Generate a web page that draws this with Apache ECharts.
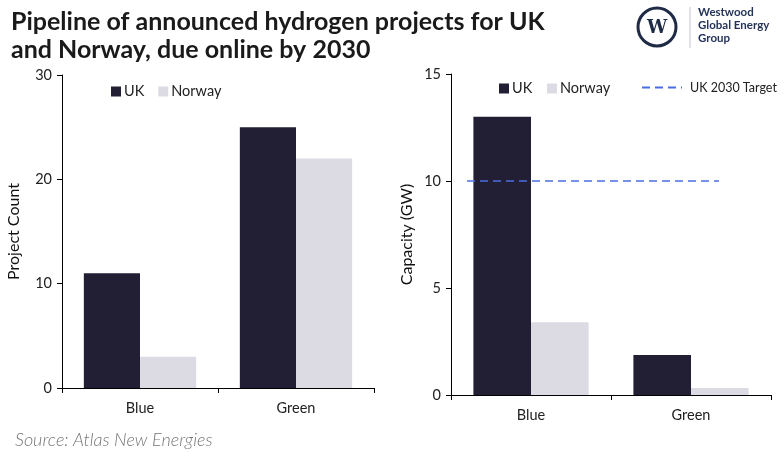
<!DOCTYPE html>
<html><head><meta charset="utf-8">
<script src="https://cdn.jsdelivr.net/npm/echarts@6/dist/echarts.min.js"></script>
<style>html,body{margin:0;padding:0;background:#fff}#c{width:784px;height:458px}</style>
</head><body><div id="c"></div>
<script>
const categories = ['Blue', 'Green'];
const seriesNames = ['UK', 'Norway'];
const projectCountUK = [11, 25];
const projectCountNorway = [3, 22];
const capacityUK = [13, 1.87];
const capacityNorway = [3.4, 0.33];
const targetName = 'UK 2030 Target';
const targetValue = 10;
const targetSpan = [0.1, 1.675]; // extent of target line in category units
const countTicks = [0, 10, 20, 30];
const capacityTicks = [0, 5, 10, 15];

const UKC = '#221f35', NOC = '#dcdbe3', TGC = '#4a6ee0';
const FONT = 'Lato, "Open Sans", sans-serif';
const chart = echarts.init(document.getElementById('c'));

function yAx(idx, ticks, name) {
  return {
    type: 'value', gridIndex: idx, min: ticks[0], max: ticks[ticks.length - 1],
    interval: ticks[1] - ticks[0],
    name: name, nameLocation: 'middle', nameRotate: 90, nameGap: idx === 0 ? 40 : 36,
    nameTextStyle: { fontFamily: FONT, fontSize: 16, color: '#111' },
    axisLine: { show: true, lineStyle: { color: '#000', width: 1 } },
    axisTick: { show: true, length: 5, lineStyle: { color: '#000' } },
    axisLabel: { fontFamily: FONT, fontSize: 14.5, color: '#222', margin: 10 },
    splitLine: { show: false }
  };
}
function xAx(idx) {
  return {
    type: 'category', gridIndex: idx, data: categories,
    axisLine: { lineStyle: { color: '#000', width: 1 } },
    axisTick: { show: true, length: 5, lineStyle: { color: '#000' } },
    axisLabel: { fontFamily: FONT, fontSize: 14.5, color: '#222', margin: 13 }
  };
}
function bar(name, data, xi, yi, color) {
  return { name: name, type: 'bar', xAxisIndex: xi, yAxisIndex: yi, data: data,
    barCategoryGap: '28%', barGap: '0%', itemStyle: { color: color }, silent: true };
}

chart.setOption({
  backgroundColor: '#fff',
  animation: false,
  title: {
    text: 'Pipeline of announced hydrogen projects for UK\nand Norway, due online by 2030',
    left: 6, top: 3,
    textStyle: { fontFamily: FONT, fontWeight: 'bold', fontSize: 25, lineHeight: 28, color: '#1a1a1a' }
  },
  grid: [
    { left: 62, right: 410, top: 75, bottom: 70 },
    { left: 451, right: 13, top: 74, bottom: 63 }
  ],
  xAxis: [xAx(0), xAx(1),
    { type: 'value', gridIndex: 1, min: 0, max: categories.length, show: false }],
  yAxis: [yAx(0, countTicks, 'Project Count'), yAx(1, capacityTicks, 'Capacity (GW)')],
  legend: [
    { left: 106, top: 79, itemWidth: 10, itemHeight: 10, itemGap: 14,
      data: [{ name: 'UK', icon: 'rect' }, { name: 'Norway', icon: 'rect' }],
      textStyle: { fontFamily: FONT, fontSize: 14.5, color: '#222', padding: [0, 0, 0, -2] } },
    { left: 494, top: 76, itemWidth: 10, itemHeight: 10, itemGap: 11,
      data: [{ name: 'UK ', icon: 'rect' }, { name: 'Norway ', icon: 'rect' }],
      textStyle: { fontFamily: FONT, fontSize: 14.5, color: '#222', padding: [0, 0, 0, -2] } },
    { left: 636, top: 76, itemWidth: 40, itemHeight: 10,
      data: [{ name: targetName, itemStyle: { opacity: 0 } }],
      textStyle: { fontFamily: FONT, fontSize: 12.5, color: '#222', padding: [0, 0, 0, 3] } }
  ],
  series: [
    bar('UK', projectCountUK, 0, 0, UKC),
    bar('Norway', projectCountNorway, 0, 0, NOC),
    bar('UK ', capacityUK, 1, 1, UKC),
    bar('Norway ', capacityNorway, 1, 1, NOC),
    { name: targetName, type: 'line', xAxisIndex: 2, yAxisIndex: 1,
      data: [[targetSpan[0], targetValue], [targetSpan[1], targetValue]],
      symbol: 'none', showSymbol: false, itemStyle: { color: TGC },
      lineStyle: { color: TGC, width: 1.5, type: [8, 5] }, silent: true, z: 5 }
  ],
  graphic: [
    { type: 'text', left: 15, top: 431,
      style: { text: 'Source: Atlas New Energies', font: 'italic 300 18px Lato, sans-serif', fill: '#777' } },
    { type: 'circle', shape: { cx: 657, cy: 27, r: 19 }, style: { fill: '#fff', stroke: '#1f2a44', lineWidth: 3 } },
    { type: 'text', x: 657, y: 28,
      style: { text: 'W', font: 'bold 18px "DejaVu Serif", serif', fill: '#1f2a44', align: 'center', verticalAlign: 'middle' } },
    { type: 'line', shape: { x1: 690, y1: 7, x2: 690, y2: 48 }, style: { stroke: '#c8c8d0', lineWidth: 1 } },
    { type: 'text', x: 698, y: 6,
      style: { text: 'Westwood\nGlobal Energy\nGroup', font: 'bold 11.5px Lato, sans-serif', lineHeight: 13, fill: '#24345a' } }
  ]
});
</script></body></html>
